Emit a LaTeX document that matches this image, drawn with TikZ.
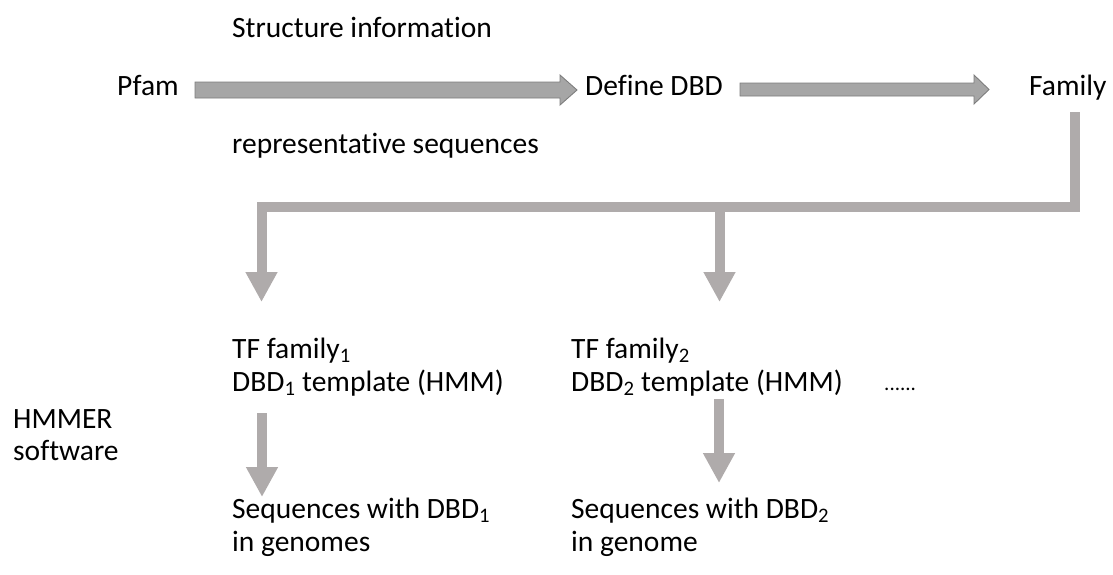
\documentclass[tikz,border=0pt]{standalone}
\usepackage{fontspec}
\setmainfont{Carlito}[Ligatures={NoCommon}]
\usetikzlibrary{arrows.meta,calc}

\definecolor{flowgray}{RGB}{175,171,171}
\definecolor{blockfill}{RGB}{166,166,166}
\definecolor{blockedge}{RGB}{125,125,125}

\tikzset{
  lbl/.style={anchor=base west, inner sep=0pt, font=\fontsize{29.5}{34}\selectfont},
  blockarrow/.style={fill=blockfill, draw=blockedge, line width=0.9pt, line join=miter},
  flow/.style={draw=flowgray, line width=10pt, line join=miter,
    -{Triangle[width=30pt,length=30pt]}},
}

% horizontal block arrow: #1 start, #2 tip, #3 half body, #4 half head, #5 head length
\newcommand\hblockarrow[5]{%
  \path[blockarrow] let \p1=(#1), \p2=(#2) in
    (\x1,\y1-#3) -- (\x2-#5,\y1-#3) -- (\x2-#5,\y1-#4) -- (\x2,\y1)
    -- (\x2-#5,\y1+#4) -- (\x2-#5,\y1+#3) -- (\x1,\y1+#3) -- cycle;}

\begin{document}
\begin{tikzpicture}[x=1pt,y=1pt]
\useasboundingbox (0,0) rectangle (1113,-574);

% labels
\node[lbl] (struct) at (232,-37) {Structure information};
\node[lbl] (pfam)   at (117,-95) {Pfam};
\node[lbl] (define) at (585,-95) {Define DBD};
\node[lbl] (family) at (1029,-95) {Family};
\node[lbl] (repr)   at (232,-153) {representative sequences};

\node[lbl] (tf1)  at (232,-358) {TF family\textsubscript{1}};
\node[lbl] (dbd1) at (232,-391) {DBD\textsubscript{1} template (HMM)};
\node[lbl] (tf2)  at (571,-358) {TF family\textsubscript{2}};
\node[lbl] (dbd2) at (571,-391) {DBD\textsubscript{2} template (HMM)};
\node[lbl, font=\fontsize{21}{24}\selectfont] (more) at (884,-390) {......};

\node[lbl] (hmmer) at (13,-428) {HMMER};
\node[lbl] (soft)  at (13,-460) {software};

\node[lbl] (seq1) at (232,-518) {Sequences with DBD\textsubscript{1}};
\node[lbl] (gen1) at (232,-551) {in genomes};
\node[lbl] (seq2) at (571,-518) {Sequences with DBD\textsubscript{2}};
\node[lbl] (gen2) at (571,-551) {in genome};

% connector end points
\coordinate (a1s) at (195,-90);
\coordinate (a1e) at (577,-90);
\coordinate (a2s) at (740,-89.5);
\coordinate (a2e) at (989,-89.5);
\coordinate (famout) at (1074.5,-112);
\coordinate (corner) at (1074.5,-207);
\coordinate (split) at (719.5,-207);
\coordinate (tf1in) at (261.5,-302);
\coordinate (tf2in) at (719.5,-302);
\coordinate (dbd1out) at (262,-413);
\coordinate (seq1in) at (262,-497);
\coordinate (dbd2out) at (719,-399);
\coordinate (seq2in) at (719,-483);

% Pfam -> Define DBD -> Family
\hblockarrow{a1s}{a1e}{8pt}{15pt}{17pt}
\hblockarrow{a2s}{a2e}{6.5pt}{14.5pt}{15pt}

% Family -> TF families
\draw[flow] (famout) -- (corner) -| (tf1in);
\draw[flow] (split) -- (tf2in);

% HMMER search
\draw[flow] (dbd1out) -- (seq1in);
\draw[flow] (dbd2out) -- (seq2in);
\end{tikzpicture}
\end{document}
